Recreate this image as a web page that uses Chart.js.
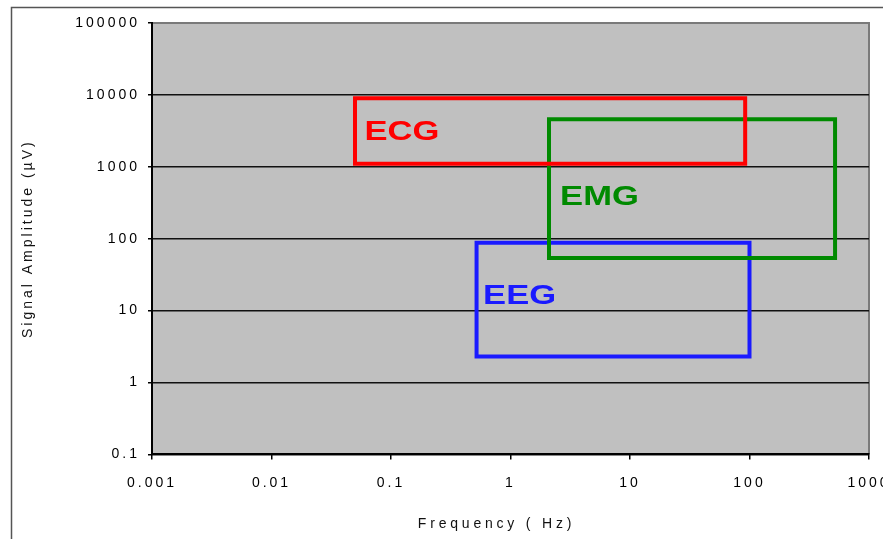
<!DOCTYPE html>
<html>
<head>
<meta charset="utf-8">
<script src="https://cdn.jsdelivr.net/npm/chart.js@4"></script>
<style>
  html, body { margin: 0; padding: 0; background: #fff; overflow: hidden; }
  #wrap { width: 883px; height: 539px; }
</style>
</head>
<body>
<div id="wrap"><canvas id="chart"></canvas></div>
<script>
const xTicks = [0.001, 0.01, 0.1, 1, 10, 100, 1000];
const yTicks = [0.1, 1, 10, 100, 1000, 10000, 100000];

const bandNames = ['ECG', 'EMG', 'EEG'];
const bandColors = ['#ff0000', '#008a00', '#1a1aff'];
const ecgFreq = [0.05, 92];
const ecgAmp = [1100, 9000];
const emgFreq = [2.1, 520];
const emgAmp = [54, 4600];
const eegFreq = [0.52, 100];
const eegAmp = [2.3, 88];
// where each band name sits (left edge, vertical middle)
const labelFreq = [0.06, 2.6, 0.59];
const labelAmp = [2990, 372, 15.7];

const xTitle = 'Frequency ( Hz)';
const yTitle = 'Signal Amplitude (µV)';

const FONT = '"Liberation Sans", Arial, sans-serif';

function box(freq, amp) {
    return [
        { x: freq[0], y: amp[0] },
        { x: freq[1], y: amp[0] },
        { x: freq[1], y: amp[1] },
        { x: freq[0], y: amp[1] },
        { x: freq[0], y: amp[0] }
    ];
}

const bands = [box(ecgFreq, ecgAmp), box(emgFreq, emgAmp), box(eegFreq, eegAmp)];

const backdrop = {
    id: 'backdrop',
    beforeDraw(chart) {
        const { ctx, chartArea: a } = chart;
        ctx.save();
        ctx.strokeStyle = '#555';
        ctx.lineWidth = 1.5;
        ctx.strokeRect(11.5, 7.5, chart.width + 20, chart.height + 20);
        ctx.fillStyle = '#c0c0c0';
        ctx.fillRect(a.left, a.top, a.right - a.left, a.bottom - a.top);
        ctx.strokeStyle = '#7a7a7a';
        ctx.lineWidth = 2;
        ctx.beginPath();
        ctx.moveTo(a.left, a.top);
        ctx.lineTo(a.right, a.top);
        ctx.lineTo(a.right, a.bottom);
        ctx.stroke();
        ctx.restore();
        ctx.letterSpacing = '3px';
    }
};

const bandLabels = {
    id: 'bandLabels',
    afterDatasetsDraw(chart) {
        const { ctx, scales: { x, y } } = chart;
        ctx.save();
        ctx.letterSpacing = '0px';
        ctx.font = 'bold 27px ' + FONT;
        ctx.textBaseline = 'middle';
        ctx.textAlign = 'left';
        bandNames.forEach((name, i) => {
            ctx.save();
            ctx.translate(x.getPixelForValue(labelFreq[i]), y.getPixelForValue(labelAmp[i]));
            ctx.scale(1.28, 1);
            ctx.fillStyle = bandColors[i];
            ctx.fillText(name, 0, 0);
            ctx.restore();
        });
        ctx.restore();
    },
    afterDraw(chart) {
        // x title sits a bit left of the plot centre in the original
        const { ctx, chartArea: a } = chart;
        ctx.save();
        ctx.letterSpacing = '3.8px';
        ctx.font = '14px ' + FONT;
        ctx.fillStyle = '#111';
        ctx.textAlign = 'center';
        ctx.textBaseline = 'middle';
        ctx.fillText(xTitle, (a.left + a.right) / 2 - 14, chart.height - 15);
        ctx.restore();
    }
};

new Chart(document.getElementById('chart'), {
    type: 'scatter',
    data: {
        datasets: bands.map((pts, i) => ({
            label: bandNames[i],
            data: pts,
            showLine: true,
            borderColor: bandColors[i],
            borderWidth: 4,
            borderJoinStyle: 'miter',
            borderCapStyle: 'square',
            pointRadius: 0,
            fill: false,
            tension: 0
        }))
    },
    options: {
        responsive: true,
        maintainAspectRatio: false,
        animation: false,
        layout: { padding: { left: 14, top: 23, right: 14, bottom: 32.8 } },
        plugins: {
            legend: { display: false },
            tooltip: { enabled: false }
        },
        scales: {
            x: {
                type: 'logarithmic',
                min: 0.001,
                max: 1000,
                afterBuildTicks: s => { s.ticks = xTicks.map(v => ({ value: v })); },
                afterFit: s => { s.paddingLeft = 0; s.paddingRight = 0; },
                ticks: {
                    callback: v => String(v),
                    color: '#000',
                    font: { family: FONT, size: 14 },
                    padding: 15,
                    maxRotation: 0,
                    autoSkip: false
                },
                grid: { drawOnChartArea: false, drawTicks: true, tickLength: 5, color: '#000', lineWidth: 1.5 },
                border: { display: true, color: '#000', width: 2 }
            },
            y: {
                type: 'logarithmic',
                min: 0.1,
                max: 100000,
                afterBuildTicks: s => { s.ticks = yTicks.map(v => ({ value: v })); },
                afterFit: s => { s.width = 138; },
                ticks: {
                    callback: v => String(v),
                    color: '#000',
                    font: { family: FONT, size: 14 },
                    padding: 8,
                    autoSkip: false
                },
                grid: {
                    color: c => (c.tick && c.tick.value === 100000 ? '#7a7a7a' : '#111'),
                    tickColor: '#000',
                    lineWidth: 1.5,
                    tickLength: 4
                },
                border: { display: true, color: '#000', width: 2 },
                title: {
                    display: true,
                    text: yTitle,
                    color: '#111',
                    font: { family: FONT, size: 14 },
                    padding: { top: 5.6, bottom: 0 }
                }
            }
        }
    },
    plugins: [backdrop, bandLabels]
});
</script>
</body>
</html>
